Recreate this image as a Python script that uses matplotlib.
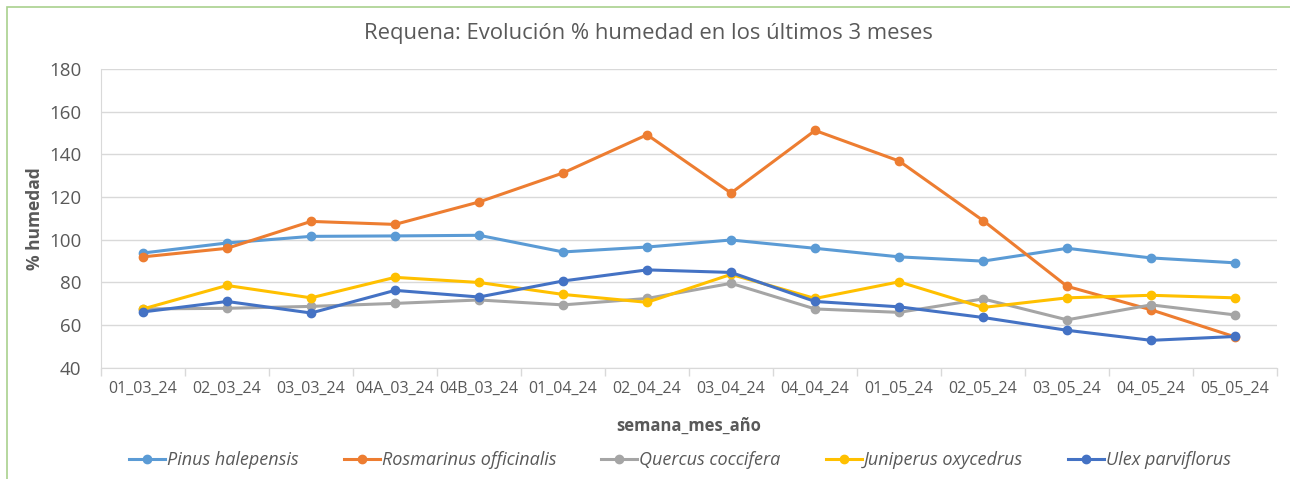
import numpy as np
import matplotlib.pyplot as plt
from matplotlib.patches import Rectangle

semanas = ['01_03_24', '02_03_24', '03_03_24', '04A_03_24', '04B_03_24', '01_04_24',
           '02_04_24', '03_04_24', '04_04_24', '01_05_24', '02_05_24', '03_05_24',
           '04_05_24', '05_05_24']

pinus = [93.8, 98.5, 101.6, 101.8, 102.1, 94.3, 96.6, 99.9, 96.0, 92.0, 90.0, 96.0, 91.5, 89.2]
rosmarinus = [92.0, 96.0, 108.6, 107.2, 117.7, 131.3, 149.2, 121.9, 151.2, 136.9, 109.0, 78.2, 67.2, 54.5]
quercus = [67.6, 67.9, 68.8, 70.2, 71.8, 69.5, 72.5, 79.6, 67.6, 66.0, 72.3, 62.5, 69.5, 64.8]
juniperus = [67.6, 78.6, 72.8, 82.4, 80.0, 74.4, 70.7, 83.8, 72.5, 80.3, 68.3, 72.8, 74.0, 72.8]
ulex = [66.2, 71.1, 65.7, 76.3, 73.2, 80.7, 85.9, 84.7, 71.1, 68.6, 63.6, 57.6, 52.9, 54.7]

series = [
    ('Pinus halepensis', pinus, '#5B9BD5'),
    ('Rosmarinus officinalis', rosmarinus, '#ED7D31'),
    ('Quercus coccifera', quercus, '#A5A5A5'),
    ('Juniperus oxycedrus', juniperus, '#FFC000'),
    ('Ulex parviflorus', ulex, '#4472C4'),
]

plt.rcParams['font.family'] = ['Open Sans', 'DejaVu Sans']
txt = '#595959'

fig = plt.figure(figsize=(12.9, 4.79), dpi=100)
ax = fig.add_axes([0.0783, 0.232, 0.9117, 0.624])

# chart border (green frame)
fig.patches.append(Rectangle((7 / 1290, -0.01), 1.02, 1 - 7 / 479 + 0.01,
                             transform=fig.transFigure, fill=False,
                             edgecolor='#A9D18E', linewidth=1.2))

x = np.arange(len(semanas))
for name, vals, col in series:
    ax.plot(x, vals, color=col, linewidth=2.2, marker='o', markersize=6, label=name)

ax.set_xlim(-0.5, len(semanas) - 0.5)
ax.set_ylim(40, 180)
ax.set_yticks(np.arange(40, 181, 20))
ax.set_xticks(x)
ax.set_xticklabels(semanas)
ax.set_xticks(np.arange(-0.5, len(semanas), 1), minor=True)
ax.tick_params(axis='x', which='major', length=0, pad=9, labelsize=11.5, colors=txt)
ax.tick_params(axis='x', which='minor', length=6, color='#D9D9D9', width=1)
ax.tick_params(axis='y', length=0, pad=14, labelsize=13.5, colors=txt)
ax.grid(axis='y', color='#D9D9D9', linewidth=1)
ax.set_axisbelow(True)
for s in ['top', 'right']:
    ax.spines[s].set_visible(False)
ax.spines['left'].set_color('#D9D9D9')
ax.spines['bottom'].set_color('#D9D9D9')

fig.text(0.503, 1 - 34 / 479, 'Requena: Evolución % humedad en los últimos 3 meses',
         fontsize=15.8, color=txt, ha='center', va='center')
ax.set_xlabel('semana_mes_año', fontsize=12, fontweight='bold', color=txt, labelpad=15)
ax.set_ylabel('% humedad', fontsize=12.5, fontweight='bold', color=txt, labelpad=4)

leg = fig.legend(loc='center', bbox_to_anchor=(0.527, 0.04), ncol=5, frameon=False,
                 prop={'style': 'italic', 'size': 13}, handlelength=2.0,
                 handletextpad=0.1, columnspacing=2.5)
for t in leg.get_texts():
    t.set_color(txt)

fig.savefig('out.png', dpi=100)
